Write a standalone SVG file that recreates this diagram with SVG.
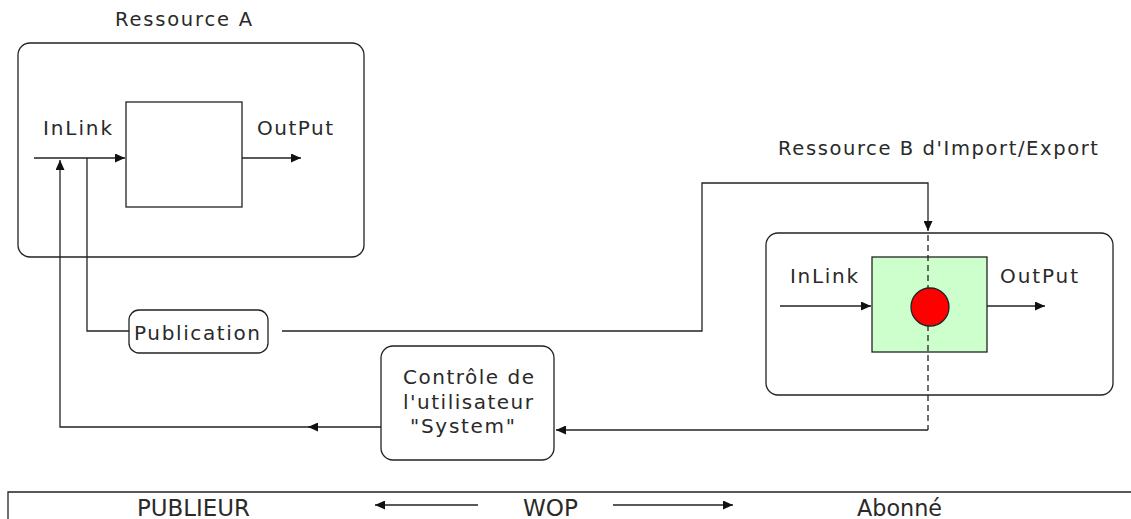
<svg xmlns="http://www.w3.org/2000/svg" width="1131" height="519" viewBox="0 0 1131 519">
<style>
.box{fill:#fff;stroke:#222;stroke-width:1.3}
.ln{fill:none;stroke:#222;stroke-width:1.3}
.dash{fill:none;stroke:#222;stroke-width:1.3;stroke-dasharray:6 4}
.t{font-family:"DejaVu Sans","Liberation Sans",sans-serif;font-size:20px;fill:#2a2a2a}
.s{font-family:"DejaVu Sans","Liberation Sans",sans-serif;font-size:19.5px;fill:#2a2a2a}
.b{font-family:"DejaVu Sans","Liberation Sans",sans-serif;font-size:23px;fill:#2a2a2a}
</style>
<defs>
<marker id="ah" markerUnits="userSpaceOnUse" markerWidth="11" markerHeight="9" refX="10" refY="4.5" orient="auto">
<path d="M0,0 L10,4.5 L0,9 z" fill="#111"/>
</marker>
</defs>
<rect width="1131" height="519" fill="#fff"/>

<g id="ressource-a">
<rect class="box" x="18" y="43" width="346" height="214" rx="12"/>
<rect class="box" x="126" y="102" width="116" height="105"/>
<text class="s" x="115" y="26" textLength="137" lengthAdjust="spacing">Ressource A</text>
<text class="t" x="43" y="135" textLength="69" lengthAdjust="spacing">InLink</text>
<text class="t" x="257" y="135" textLength="76" lengthAdjust="spacing">OutPut</text>
</g>

<g id="ressource-b">
<rect class="box" x="766" y="233" width="347" height="162" rx="12"/>
<rect x="872" y="257" width="115" height="95" fill="#ccffcc" stroke="#222" stroke-width="1.3"/>
<text class="s" x="778" y="155" textLength="320" lengthAdjust="spacing">Ressource B d'Import/Export</text>
<text class="t" x="790" y="283" textLength="68" lengthAdjust="spacing">InLink</text>
<text class="t" x="1000" y="283" textLength="78" lengthAdjust="spacing">OutPut</text>
</g>

<g id="publication">
<rect class="box" x="129" y="310" width="139" height="43" rx="10"/>
<text class="t" x="134" y="340" textLength="126" lengthAdjust="spacing">Publication</text>
</g>

<g id="controle">
<rect class="box" x="381" y="346" width="173" height="114" rx="12"/>
<text class="t" x="403" y="384" textLength="131" lengthAdjust="spacing">Contrôle de</text>
<text class="t" x="403" y="409" textLength="130" lengthAdjust="spacing">l'utilisateur</text>
<text class="t" x="410" y="433" textLength="105" lengthAdjust="spacing">"System"</text>
</g>

<g id="connectors">
<line class="ln" x1="34" y1="158" x2="125" y2="158" marker-end="url(#ah)"/>
<line class="ln" x1="242" y1="158" x2="301" y2="158" marker-end="url(#ah)"/>
<path class="ln" d="M87 158 V331 H129"/>
<path class="ln" d="M282 331 H702 V183 H928 V231" marker-end="url(#ah)"/>
<path class="dash" d="M928 235 V430"/>
<path class="ln" d="M928 430 H556" marker-end="url(#ah)"/>
<path class="ln" d="M381 427 H308" marker-end="url(#ah)"/>
<path class="ln" d="M310 427 H60 V160" marker-end="url(#ah)"/>
<line class="ln" x1="780" y1="306" x2="871" y2="306" marker-end="url(#ah)"/>
<line class="ln" x1="987" y1="306" x2="1045" y2="306" marker-end="url(#ah)"/>
</g>

<g id="red-dot">
<circle cx="930" cy="307" r="19" fill="#ff0000" stroke="#222" stroke-width="1.3"/>
</g>

<g id="wop-bar">
<path class="ln" d="M8 519 V492 H1131"/>
<text class="b" x="137" y="516" textLength="113" lengthAdjust="spacingAndGlyphs">PUBLIEUR</text>
<text class="b" x="523" y="516" textLength="55" lengthAdjust="spacingAndGlyphs">WOP</text>
<text class="b" x="857" y="516" textLength="85" lengthAdjust="spacingAndGlyphs">Abonné</text>
<line class="ln" x1="478" y1="505" x2="375" y2="505" marker-end="url(#ah)"/>
<line class="ln" x1="613" y1="505" x2="733" y2="505" marker-end="url(#ah)"/>
</g>
</svg>
